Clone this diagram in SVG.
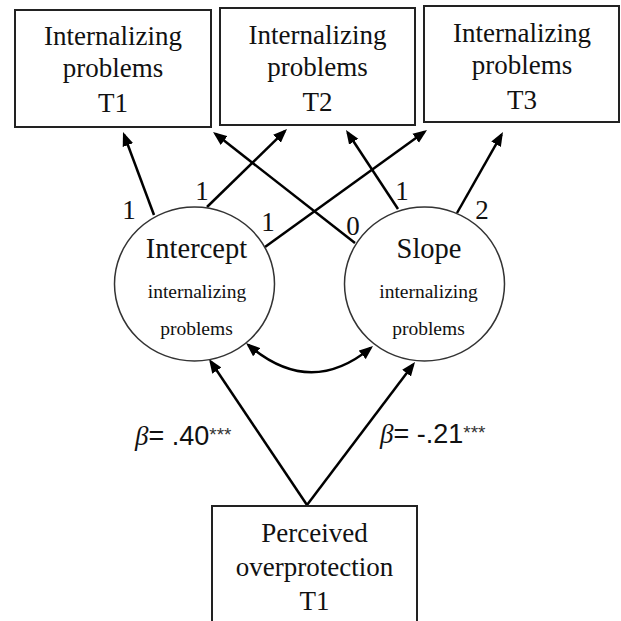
<svg xmlns="http://www.w3.org/2000/svg" width="621" height="621" viewBox="0 0 621 621">
<style>
.box{fill:#fff;stroke:#222;stroke-width:2}
.lat{fill:#fff;stroke:#333;stroke-width:1.5}
.t{font-family:"Liberation Serif","Times New Roman",serif;font-size:27px;fill:#111;text-anchor:middle}
.big{font-family:"Liberation Serif","Times New Roman",serif;font-size:28.5px;fill:#111;text-anchor:middle}
.small{font-family:"Liberation Serif","Times New Roman",serif;font-size:19.5px;fill:#111;text-anchor:middle}
.lab{font-family:"Liberation Serif","Times New Roman",serif;font-size:27px;fill:#111;text-anchor:middle}
.coef{font-family:"Liberation Sans",Arial,sans-serif;font-size:27px;fill:#111}
.beta{font-family:"Liberation Serif","Times New Roman",serif;font-style:italic}
.ast{font-size:19px;fill:#333}
.c{fill:none;stroke:#000;stroke-width:2.5;marker-end:url(#ah)}
</style>
<defs>
<marker id="ah" markerUnits="userSpaceOnUse" markerWidth="14" markerHeight="12" viewBox="0 0 14 12" refX="11" refY="6" orient="auto-start-reverse">
<path d="M0,0.5 L14,6 L0,11.5 z" fill="#000"/>
</marker>
</defs>
<rect width="621" height="621" fill="#fff"/>
<g id="connectors">
<line class="c" x1="154" y1="215" x2="124.05" y2="134.8"/>
<line class="c" x1="207" y1="207" x2="284.85" y2="131.1"/>
<line class="c" x1="265" y1="247" x2="424.6" y2="131.8"/>
<line class="c" x1="355" y1="243" x2="215.4" y2="133.8"/>
<line class="c" x1="398" y1="209" x2="347.65" y2="132.5"/>
<line class="c" x1="457" y1="213" x2="501.5" y2="134.6"/>
<line class="c" x1="307" y1="505" x2="210.7" y2="361.5"/>
<line class="c" x1="307" y1="505" x2="413.2" y2="364.4"/>
<path class="c" style="marker-start:url(#ah)" d="M248.3,345 Q310,398 370.7,347.9"/>
</g>
<g id="labels">
<text class="lab" x="129" y="219">1</text>
<text class="lab" x="202" y="200">1</text>
<text class="lab" x="268" y="231">1</text>
<text class="lab" x="353" y="235">0</text>
<text class="lab" x="402" y="200">1</text>
<text class="lab" x="482" y="219">2</text>
<text class="coef" x="135" y="445"><tspan class="beta">β</tspan>= .40<tspan class="ast" dy="-4">***</tspan></text>
<text class="coef" x="380" y="443"><tspan class="beta">β</tspan>= -.21<tspan class="ast" dy="-4">***</tspan></text>
</g>
<g id="t1">
<rect class="box" x="15" y="10" width="196" height="117"/>
<text class="t" x="113" y="45">Internalizing</text>
<text class="t" x="113" y="77">problems</text>
<text class="t" x="113" y="112">T1</text>
</g>
<g id="t2">
<rect class="box" x="220" y="8" width="195" height="117"/>
<text class="t" x="317.5" y="44">Internalizing</text>
<text class="t" x="317.5" y="76">problems</text>
<text class="t" x="317.5" y="111">T2</text>
</g>
<g id="t3">
<rect class="box" x="424" y="6" width="195" height="116"/>
<text class="t" x="522" y="42">Internalizing</text>
<text class="t" x="522" y="74">problems</text>
<text class="t" x="522" y="109">T3</text>
</g>
<g id="intercept">
<ellipse class="lat" cx="194.5" cy="284" rx="80" ry="77"/>
<text class="big" x="196.5" y="258">Intercept</text>
<text class="small" x="197" y="298">internalizing</text>
<text class="small" x="196.5" y="335">problems</text>
</g>
<g id="slope">
<ellipse class="lat" cx="424.5" cy="284" rx="80" ry="77"/>
<text class="big" x="429" y="258">Slope</text>
<text class="small" x="428.5" y="298">internalizing</text>
<text class="small" x="428.5" y="335">problems</text>
</g>
<g id="overprotection">
<rect class="box" x="212" y="506" width="205" height="125"/>
<text class="t" x="314.5" y="542">Perceived</text>
<text class="t" x="314.5" y="576">overprotection</text>
<text class="t" x="314.5" y="610">T1</text>
</g>
</svg>
